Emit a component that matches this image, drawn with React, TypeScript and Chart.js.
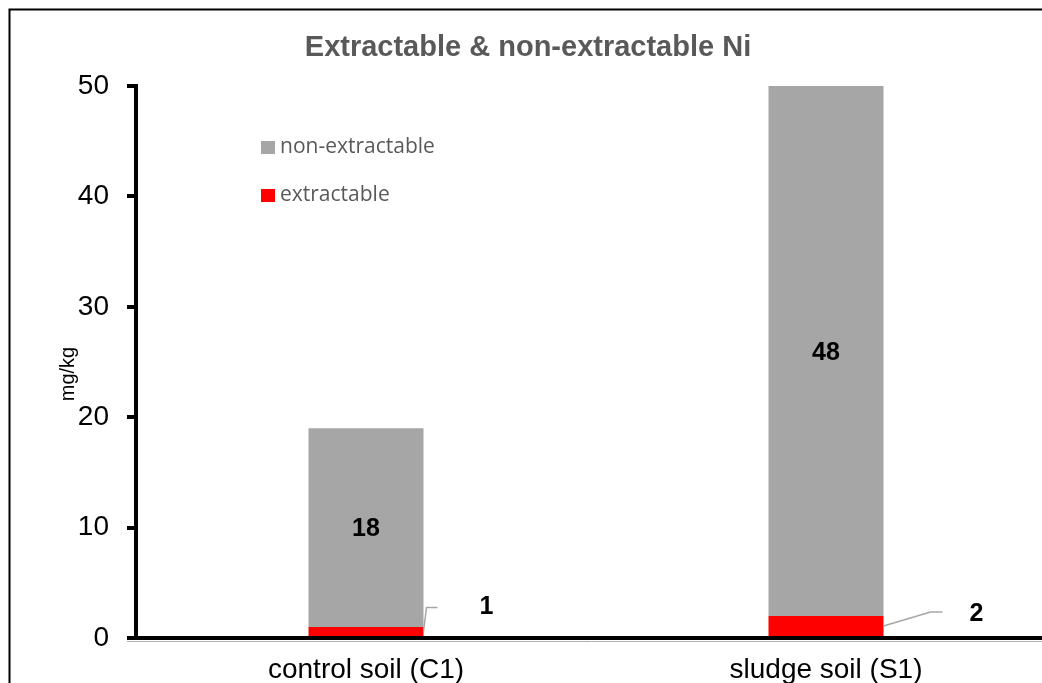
import React, { useEffect, useRef } from "react";
import { Chart, registerables } from "chart.js";

Chart.register(...registerables);

const categories = ["control soil (C1)", "sludge soil (S1)"];
const extractable = [1, 2];
const nonExtractable = [18, 48];
const seriesNames = ["extractable", "non-extractable"];
const seriesColors = ["#ff0000", "#a6a6a6"];
const yMin = 0;
const yMax = 50;
const yStep = 10;
const chartTitle = "Extractable & non-extractable Ni";
const yTitle = "mg/kg";

const W = 1060;
const H = 698;
const FONT = "'Liberation Sans', Arial, Helvetica, sans-serif";

// leader line placement for the small (extractable) labels, relative to bar right edge / segment centre
const leaderLayout = [
  { ex: 3, ey: -24, lx: 14, tx: 63, ty: 0 },
  { ex: 47, ey: -14, lx: 59, tx: 93, ty: 2 },
];

const framePlugin = {
  id: "frame",
  beforeDraw(chart: any) {
    const { ctx } = chart;
    ctx.save();
    ctx.fillStyle = "#ffffff";
    ctx.fillRect(0, 0, chart.width, chart.height);
    ctx.strokeStyle = "#000000";
    ctx.lineWidth = 2;
    ctx.strokeRect(9.5, 9.5, chart.width - 5, chart.height + 20);
    ctx.restore();
  },
  afterDraw(chart: any) {
    const { ctx, chartArea } = chart;
    ctx.save();
    // faint grey edge under the horizontal axis
    ctx.strokeStyle = "#b0b0b0";
    ctx.lineWidth = 1;
    ctx.beginPath();
    ctx.moveTo(chartArea.left - 9, chartArea.bottom + 3.5);
    ctx.lineTo(chartArea.right, chartArea.bottom + 3.5);
    ctx.stroke();
    // y axis title
    ctx.fillStyle = "#000000";
    ctx.font = `20px ${FONT}`;
    ctx.textAlign = "center";
    ctx.textBaseline = "middle";
    ctx.translate(68, (chartArea.top + chartArea.bottom) / 2 + 12);
    ctx.rotate(-Math.PI / 2);
    ctx.fillText(yTitle, 0, 0);
    ctx.restore();
  },
};

const labelsPlugin = {
  id: "barLabels",
  afterDatasetsDraw(chart: any) {
    const { ctx } = chart;
    ctx.save();
    ctx.font = `bold 25px ${FONT}`;
    ctx.fillStyle = "#000000";
    ctx.textAlign = "center";
    ctx.textBaseline = "middle";
    const metaTop = chart.getDatasetMeta(1);
    metaTop.data.forEach((bar: any, j: number) => {
      const p = bar.getProps(["x", "y", "base"], true);
      ctx.fillText(String(nonExtractable[j]), p.x, (p.y + p.base) / 2 + 2);
    });
    const metaBottom = chart.getDatasetMeta(0);
    metaBottom.data.forEach((bar: any, j: number) => {
      const p = bar.getProps(["x", "y", "base", "width"], true);
      const right = p.x + p.width / 2;
      const cy = (p.y + p.base) / 2;
      const L = leaderLayout[j];
      ctx.strokeStyle = "#a6a6a6";
      ctx.lineWidth = 1.5;
      ctx.beginPath();
      ctx.moveTo(right, cy);
      ctx.lineTo(right + L.ex, cy + L.ey);
      ctx.lineTo(right + L.lx, cy + L.ey);
      ctx.stroke();
      ctx.fillText(String(extractable[j]), right + L.tx, cy + L.ey + L.ty);
    });
    ctx.restore();
  },
};

const legendPlugin = {
  id: "insideLegend",
  afterDraw(chart: any) {
    const { ctx } = chart;
    ctx.save();
    ctx.font = `21px 'Open Sans', sans-serif`;
    ctx.textAlign = "left";
    ctx.textBaseline = "middle";
    const items = chart.data.datasets.map((d: any) => ({ label: d.label, color: d.backgroundColor })).reverse();
    items.forEach((it: any, i: number) => {
      const top = 141 + i * 48;
      ctx.fillStyle = it.color;
      ctx.fillRect(261, top, 14, 13);
      ctx.fillStyle = "#595959";
      ctx.fillText(it.label, 280, top + 6);
    });
    ctx.restore();
  },
};

export default function App() {
  const ref = useRef<HTMLCanvasElement>(null);
  useEffect(() => {
    if (!ref.current) return;
    const chart = new Chart(ref.current, {
      type: "bar",
      data: {
        labels: categories,
        datasets: [
          { label: seriesNames[0], data: extractable, backgroundColor: seriesColors[0], borderWidth: 0 },
          { label: seriesNames[1], data: nonExtractable, backgroundColor: seriesColors[1], borderWidth: 0 },
        ],
      },
      options: {
        animation: false,
        responsive: false,
        devicePixelRatio: 1,
        layout: { padding: { left: 0, right: 4, top: 0, bottom: 0 } },
        datasets: { bar: { categoryPercentage: 1, barPercentage: 0.25 } },
        plugins: {
          legend: { display: false },
          tooltip: { enabled: false },
          title: {
            display: true,
            text: chartTitle,
            color: "#595959",
            font: { family: FONT, size: 29, weight: "bold" },
            padding: { top: 31, bottom: 20.2 },
          },
        },
        scales: {
          x: {
            stacked: true,
            grid: { display: false, drawTicks: false },
            border: { display: true, color: "#000000", width: 4 },
            ticks: { color: "#000000", font: { family: FONT, size: 28 }, padding: 15 },
            afterFit: (s: any) => {
              s.height = 60;
            },
          },
          y: {
            stacked: true,
            min: yMin,
            max: yMax,
            ticks: { stepSize: yStep, color: "#000000", font: { family: FONT, size: 28 }, padding: 18 },
            grid: { display: true, drawOnChartArea: false, drawTicks: true, tickLength: 9, color: "#000000", lineWidth: 4 },
            border: { display: true, color: "#000000", width: 4 },
            title: { display: false, text: yTitle },
            afterFit: (s: any) => {
              s.width = 136;
            },
          },
        },
      },
      plugins: [framePlugin, labelsPlugin, legendPlugin],
    } as any);
    return () => chart.destroy();
  }, []);
  return (
    <div style={{ position: "fixed", left: 0, top: 0, width: 1042, height: 683, overflow: "hidden", background: "#fff" }}>
      <canvas ref={ref} width={W} height={H} style={{ display: "block", width: W, height: H }} />
    </div>
  );
}
